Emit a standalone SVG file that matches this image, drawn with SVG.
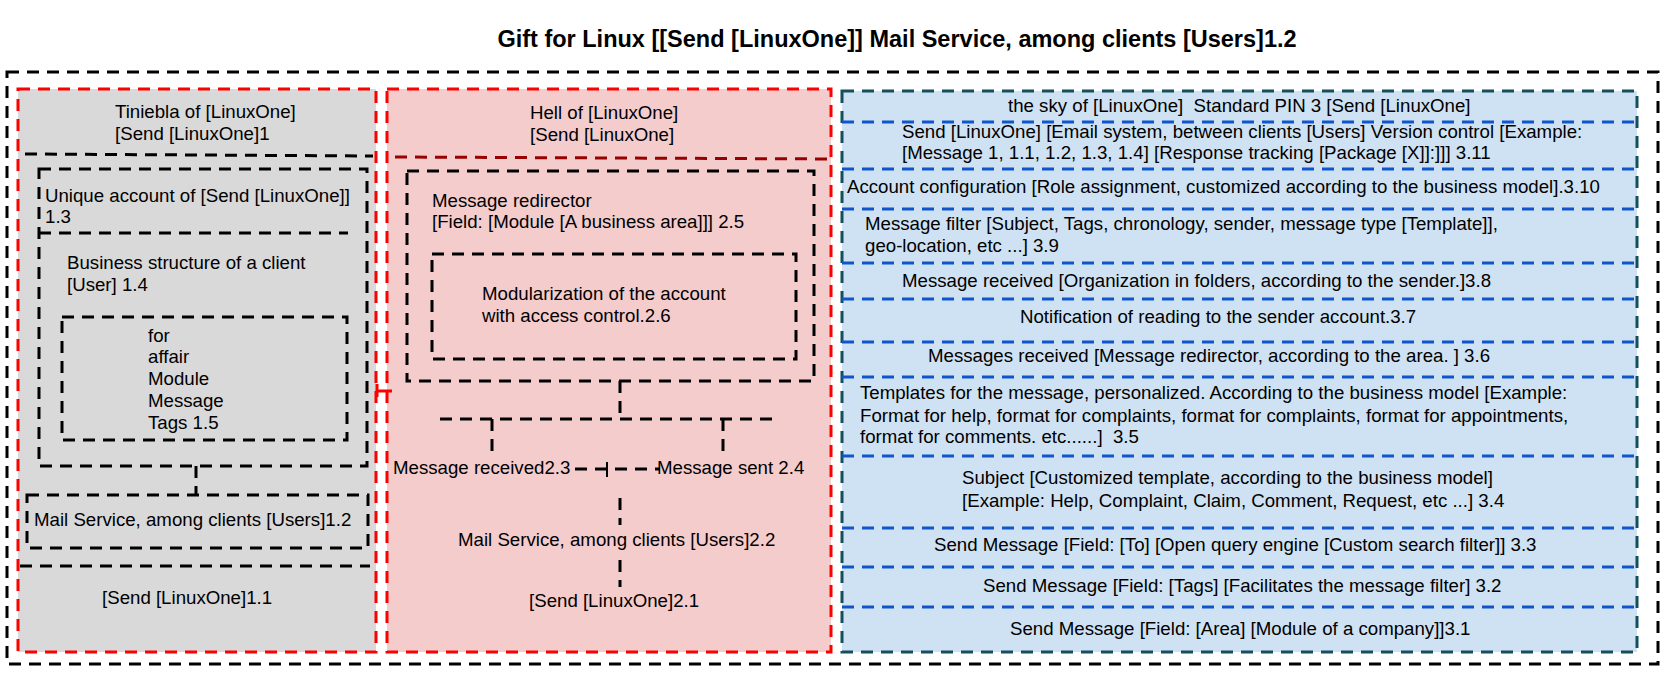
<svg xmlns="http://www.w3.org/2000/svg" width="1677" height="677" viewBox="0 0 1677 677">
<style>
text{font-family:"Liberation Sans",Arial,sans-serif;font-size:18.67px;fill:#000;white-space:pre}
.title{font-weight:bold;font-size:23.5px}
.bk{fill:none;stroke:#000;stroke-width:3;stroke-dasharray:12 8}
.rd{stroke:#ff0000;stroke-width:3;stroke-dasharray:12 8}
.dr{fill:none;stroke:#990000;stroke-width:3;stroke-dasharray:12 8}
.bl{fill:none;stroke:#1155cc;stroke-width:3;stroke-dasharray:12 8}
.tl{stroke:#134f5c;stroke-width:3;stroke-dasharray:12 8}
</style>
<rect width="1677" height="677" fill="#fff"/>
<g id="title"><text class="title" x="897" y="47" text-anchor="middle">Gift for Linux [[Send [LinuxOne]] Mail Service, among clients [Users]1.2</text></g>
<g id="frame"><rect class="bk" x="7" y="72" width="1651" height="592"/></g>

<g id="panel-tiniebla">
<rect class="rd" x="18" y="89" width="358" height="563" fill="#d9d9d9"/>
<text x="115" y="118">Tiniebla of [LinuxOne]</text>
<text x="115" y="140">[Send [LinuxOne]1</text>
<line class="bk" x1="25" y1="154" x2="373" y2="156"/>
<line class="bk" x1="20" y1="566" x2="370" y2="566"/>
<text x="102" y="604">[Send [LinuxOne]1.1</text>
</g>
<g id="node-unique-account">
<rect class="bk" x="39" y="169" width="328" height="297"/>
<text x="45" y="202">Unique account of [Send [LinuxOne]]</text>
<text x="45" y="223">1.3</text>
</g>
<g id="node-business-structure">
<line class="bk" x1="39" y1="233" x2="348" y2="233"/>
<text x="67" y="269">Business structure of a client</text>
<text x="67" y="291">[User] 1.4</text>
</g>
<g id="node-tags">
<rect class="bk" x="62" y="317" width="285" height="123"/>
<text x="148" y="342">for</text>
<text x="148" y="363">affair</text>
<text x="148" y="385">Module</text>
<text x="148" y="407">Message</text>
<text x="148" y="429">Tags 1.5</text>
</g>
<g id="node-mail-service-1">
<rect class="bk" x="27" y="495" width="341" height="53"/>
<text x="34" y="526">Mail Service, among clients [Users]1.2</text>
</g>

<g id="panel-hell">
<rect class="rd" x="387" y="89" width="444" height="563" fill="#f4cccc"/>
<text x="530" y="119">Hell of [LinuxOne]</text>
<text x="530" y="141">[Send [LinuxOne]</text>
<line class="dr" x1="395" y1="157" x2="835" y2="159"/>
</g>
<g id="node-redirector">
<rect class="bk" x="407" y="171" width="407" height="210"/>
<text x="432" y="207">Message redirector</text>
<text x="432" y="228">[Field: [Module [A business area]]] 2.5</text>
</g>
<g id="node-modularization">
<rect class="bk" x="432" y="254" width="364" height="105"/>
<text x="482" y="300">Modularization of the account</text>
<text x="482" y="322">with access control.2.6</text>
</g>
<g id="node-received"><text x="393" y="474">Message received2.3</text></g>
<g id="node-sent"><text x="657" y="474">Message sent 2.4</text></g>
<g id="node-mail-service-2"><text x="458" y="546">Mail Service, among clients [Users]2.2</text></g>
<g id="node-send-2"><text x="529" y="607">[Send [LinuxOne]2.1</text></g>

<g id="panel-sky">
<rect class="tl" x="842" y="91" width="795" height="561" fill="#cfe2f3"/>
<g id="sky-separators">
<line class="bl" x1="842" y1="122" x2="1637" y2="122"/>
<line class="bl" x1="842" y1="169" x2="1637" y2="169"/>
<line class="bl" x1="842" y1="209" x2="1637" y2="209"/>
<line class="bl" x1="842" y1="263" x2="1637" y2="263"/>
<line class="bl" x1="842" y1="299" x2="1637" y2="299"/>
<line class="bl" x1="842" y1="342" x2="1637" y2="342"/>
<line class="bl" x1="842" y1="377" x2="1637" y2="377"/>
<line class="bl" x1="842" y1="456" x2="1637" y2="456"/>
<line class="bl" x1="842" y1="528" x2="1637" y2="528"/>
<line class="bl" x1="842" y1="567" x2="1637" y2="567"/>
<line class="bl" x1="842" y1="607" x2="1637" y2="607"/>
</g>
<text x="1008" y="112">the sky of [LinuxOne]  Standard PIN 3 [Send [LinuxOne]</text>
</g>
<g id="node-3-11">
<text x="902" y="138">Send [LinuxOne] [Email system, between clients [Users] Version control [Example:</text>
<text x="902" y="159">[Message 1, 1.1, 1.2, 1.3, 1.4] [Response tracking [Package [X]]:]]] 3.11</text>
</g>
<g id="node-3-10"><text x="847" y="193">Account configuration [Role assignment, customized according to the business model].3.10</text></g>
<g id="node-3-9">
<text x="865" y="230">Message filter [Subject, Tags, chronology, sender, message type [Template]],</text>
<text x="865" y="252">geo-location, etc ...] 3.9</text>
</g>
<g id="node-3-8"><text x="902" y="287">Message received [Organization in folders, according to the sender.]3.8</text></g>
<g id="node-3-7"><text x="1020" y="323">Notification of reading to the sender account.3.7</text></g>
<g id="node-3-6"><text x="928" y="362">Messages received [Message redirector, according to the area. ] 3.6</text></g>
<g id="node-3-5">
<text x="860" y="399">Templates for the message, personalized. According to the business model [Example:</text>
<text x="860" y="422">Format for help, format for complaints, format for complaints, format for appointments,</text>
<text x="860" y="443">format for comments. etc......]  3.5</text>
</g>
<g id="node-3-4">
<text x="962" y="484">Subject [Customized template, according to the business model]</text>
<text x="962" y="507">[Example: Help, Complaint, Claim, Comment, Request, etc ...] 3.4</text>
</g>
<g id="node-3-3"><text x="934" y="551">Send Message [Field: [To] [Open query engine [Custom search filter]] 3.3</text></g>
<g id="node-3-2"><text x="983" y="592">Send Message [Field: [Tags] [Facilitates the message filter] 3.2</text></g>
<g id="node-3-1"><text x="1010" y="635">Send Message [Field: [Area] [Module of a company]]3.1</text></g>

<g id="connectors">
<line class="bk" x1="196" y1="466" x2="196" y2="495"/>
<line class="bk" x1="620" y1="381" x2="620" y2="413"/>
<line class="bk" x1="440" y1="419" x2="776" y2="419"/>
<line class="bk" x1="492" y1="419" x2="492" y2="453"/>
<line class="bk" x1="723" y1="419" x2="723" y2="453"/>
<line class="bk" x1="575" y1="469" x2="660" y2="469"/>
<line x1="607" y1="462" x2="607" y2="477" stroke="#000" stroke-width="2"/>
<line class="bk" x1="620" y1="498" x2="620" y2="525"/>
<line class="bk" x1="620" y1="560" x2="620" y2="587"/>
<path d="M377,384 V397 M377,391 H392" fill="none" stroke="#ff0000" stroke-width="3"/>
</g>
</svg>
